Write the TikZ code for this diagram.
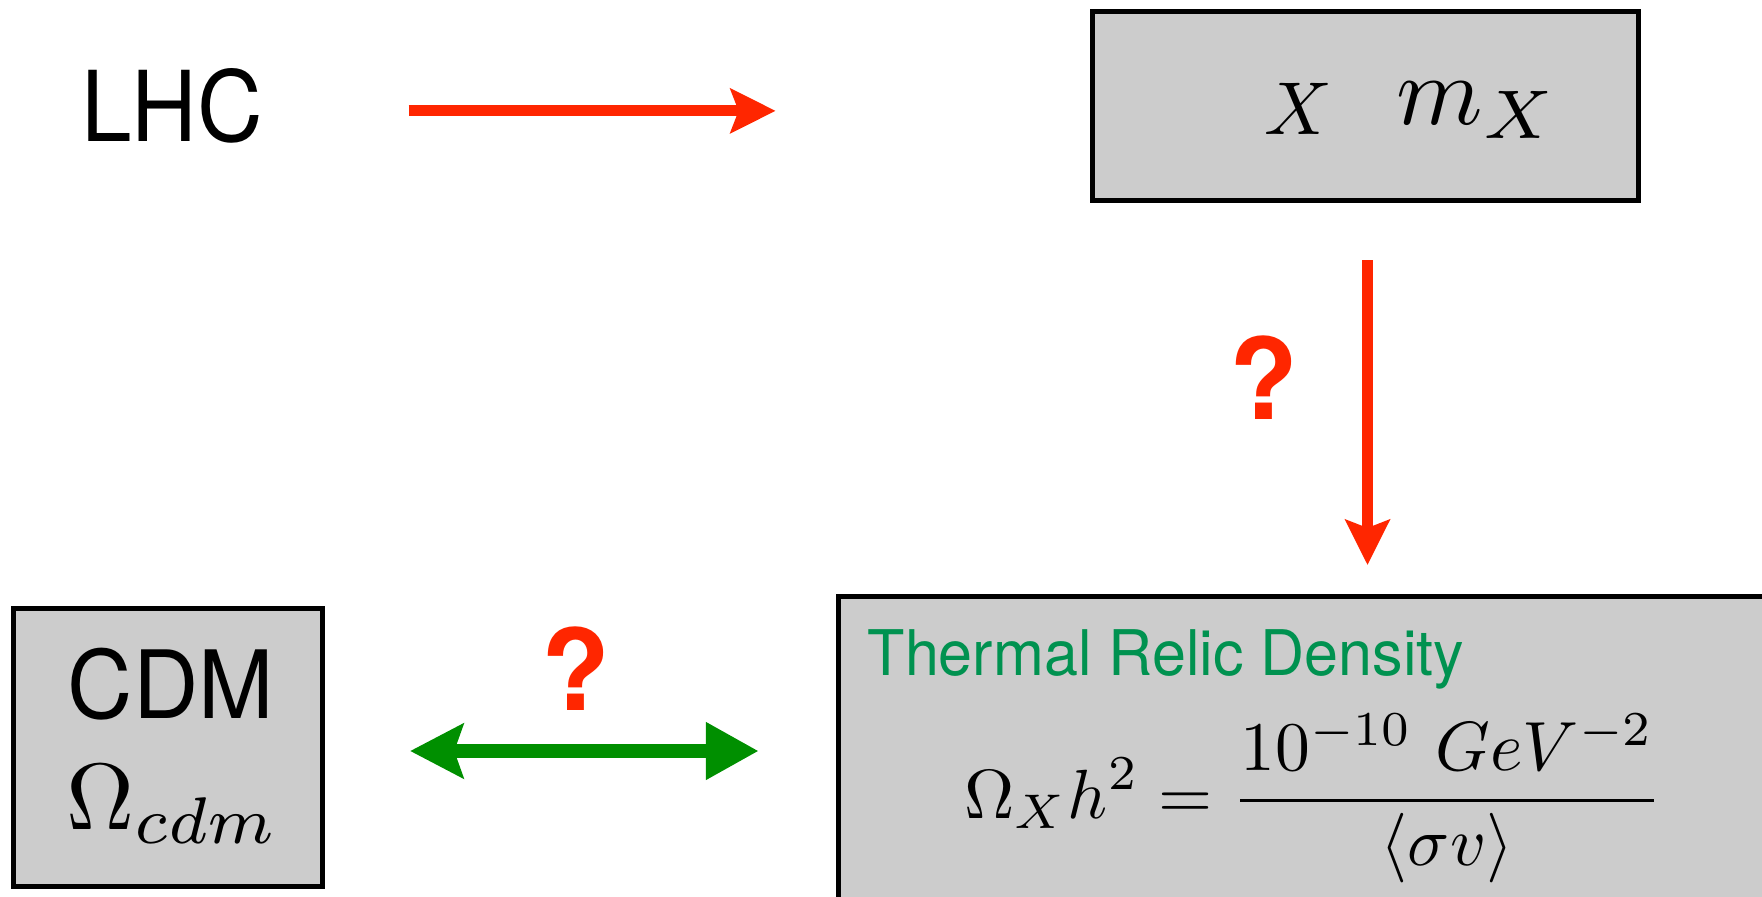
\documentclass[tikz,border=0pt]{standalone}
\usepackage{fontspec}
\usepackage{graphicx}
\usetikzlibrary{arrows.meta}
\newfontfamily\labelfont[FakeStretch=0.93]{TeX Gyre Heros}
\newfontfamily\cdmfont[FakeStretch=0.96]{TeX Gyre Heros}
\newfontfamily\titlefont[FakeStretch=0.97]{TeX Gyre Heros}
\newfontfamily\qfont{TeX Gyre Heros}
\definecolor{arrowred}{RGB}{255,38,0}
\definecolor{arrowgreen}{RGB}{0,143,0}
\definecolor{relicgreen}{RGB}{0,146,80}
\definecolor{boxgray}{RGB}{204,204,204}

\begin{document}
\begin{tikzpicture}[x=0.01cm, y=-0.01cm,
  graybox/.style={draw, line width=0.05cm, fill=boxgray, inner sep=0pt},
  bigtext/.style={font=\labelfont\fontsize{27.8}{33}\selectfont, inner sep=0pt},
  mathtext/.style={inner sep=0pt, anchor=base west},
  titletext/.style={font=\titlefont\fontsize{17.9}{22}\selectfont, text=relicgreen, inner sep=0pt},
  qmark/.style={font=\qfont\bfseries\fontsize{32}{38}\selectfont, text=arrowred, inner sep=0pt},
  redarrow/.style={-{Stealth[length=0.45cm, width=0.44cm, inset=0.08cm]}, color=arrowred, line width=0.11cm},
  greenarrow/.style={{Stealth[length=0.53cm, width=0.54cm, inset=0.09cm]}-{Triangle[length=0.53cm, width=0.54cm]}, color=arrowgreen, line width=0.135cm}]
  \useasboundingbox (0,0) rectangle (1762,897);

  % boxes
  \node[graybox, minimum width=5.46cm, minimum height=1.89cm] (xbox) at (1365.5,106) {};
  \node[graybox, minimum width=3.09cm, minimum height=2.78cm] (cdm) at (168,747.5) {};
  \node[graybox, anchor=north west, minimum width=10cm, minimum height=4cm] (relic) at (836,594) {};

  % texts
  \node[bigtext, anchor=base] (lhc) at (172,142) {LHC};
  \node[mathtext] (chi) at (1264,134) {\scalebox{2.13}{$X$}};
  \node[mathtext] (mchi) at (1396,124) {\scalebox{2.8}{$m_X$}};
  \node[bigtext, font=\cdmfont\fontsize{26.8}{32}\selectfont, anchor=base] (cdmlabel) at (171,718) {CDM};
  \node[mathtext] (omegacdm) at (66,829) {\scalebox{2.68}{$\Omega_{cdm}$}};
  \node[titletext, anchor=base west] (relictitle) at (867,675) {Thermal Relic Density};
  \node[mathtext] (omegax) at (964,818)
    {\scalebox{1.98}{$\displaystyle \Omega_X h^2 = \frac{10^{-10}\ GeV^{-2}}{\langle\sigma v\rangle}$}};
  \node[qmark] (qdown) at (1264,378) {?};
  \node[qmark] (qboth) at (576,669) {?};

  % connectors
  \coordinate (lhcout) at ([yshift=-0.045cm]lhc.east);
  \coordinate (xout) at ([xshift=0.02cm]xbox.south);
  \coordinate (cdmout) at ([yshift=-0.035cm]cdm.east);
  \draw[redarrow, shorten <=1.45cm, shorten >=3.14cm] (lhcout) -- (lhcout -| xbox.west);
  \draw[redarrow, shorten <=0.57cm, shorten >=0.29cm] (xout) -- (xout |- relic.north);
  \draw[greenarrow, shorten <=0.85cm, shorten >=0.77cm] (cdmout) -- (cdmout -| relic.west);
\end{tikzpicture}
\end{document}
